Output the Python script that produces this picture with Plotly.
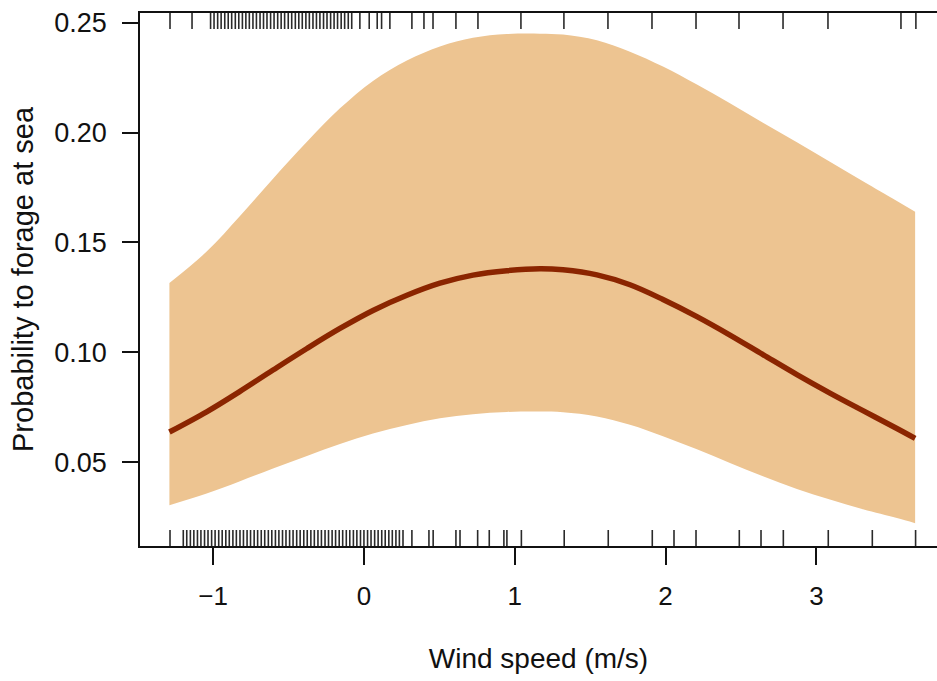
import plotly.graph_objects as go

# ---- data ----
wind = [-1.29, -1.043, -0.822, -0.603, -0.378, -0.159, 0.060, 0.285, 0.504, 0.723,
        0.948, 1.167, 1.320, 1.545, 1.764, 1.983, 2.208, 2.427, 2.646, 2.871,
        3.090, 3.309, 3.534, 3.655]
fit = [0.0637, 0.0729, 0.0822, 0.0919, 0.1017, 0.1108, 0.1190, 0.1259, 0.1314, 0.1351,
       0.1371, 0.1380, 0.1375, 0.1352, 0.1307, 0.1240, 0.1162, 0.1078, 0.0989, 0.0898,
       0.0814, 0.0734, 0.0653, 0.0608]
upper = [0.1315, 0.1458, 0.1620, 0.1790, 0.1958, 0.2110, 0.2235, 0.2328, 0.2392, 0.2431,
         0.2448, 0.2450, 0.2446, 0.2420, 0.2368, 0.2300, 0.2218, 0.2133, 0.2045, 0.1956,
         0.1867, 0.1778, 0.1688, 0.1639]
lower = [0.0304, 0.0357, 0.0413, 0.0471, 0.0528, 0.0582, 0.0630, 0.0669, 0.0699, 0.0718,
         0.0728, 0.0730, 0.0727, 0.0708, 0.0670, 0.0618, 0.0558, 0.0496, 0.0435, 0.0378,
         0.0330, 0.0285, 0.0245, 0.0222]

# observations foraging at sea (top rug)
rug_top = [-1.286, -1.14,
           -1.017, -0.994, -0.970, -0.947, -0.923, -0.900, -0.877, -0.853, -0.830, -0.806,
           -0.783, -0.760, -0.736, -0.713, -0.689, -0.666, -0.643, -0.619, -0.596, -0.572,
           -0.549, -0.526, -0.502, -0.479, -0.455, -0.432, -0.409, -0.385, -0.362, -0.338,
           -0.315, -0.292, -0.268, -0.245, -0.221, -0.198, -0.175, -0.151, -0.128, -0.104,
           -0.081,
           -0.027, 0.035, 0.088, 0.117, 0.172, 0.318, 0.398, 0.458, 0.610, 0.756, 1.041,
           1.326, 1.618, 1.910, 2.202, 2.487, 2.779, 3.077, 3.561, 3.660]
# other observations (bottom rug)
rug_bottom = [-1.286,
              -1.198, -1.175, -1.151, -1.128, -1.104, -1.081, -1.057, -1.034, -1.010, -0.987,
              -0.963, -0.940, -0.916, -0.893, -0.869, -0.846, -0.822, -0.799, -0.775, -0.752,
              -0.728, -0.705, -0.681, -0.658, -0.634, -0.611, -0.587, -0.564, -0.540, -0.517,
              -0.493, -0.470, -0.446, -0.423, -0.399, -0.376, -0.352, -0.329, -0.305, -0.282,
              -0.258, -0.235, -0.211, -0.188, -0.164, -0.141, -0.117, -0.094, -0.070, -0.047,
              -0.023, 0.000, 0.024, 0.047, 0.071, 0.094, 0.118, 0.141, 0.165, 0.188,
              0.212, 0.235, 0.259,
              0.318, 0.431, 0.459, 0.610, 0.637, 0.754, 0.831, 0.928, 0.948, 1.044,
              1.328, 1.620, 1.912, 2.056, 2.202, 2.489, 2.633, 2.781, 3.079, 3.371, 3.658]

x_ticks = [-1, 0, 1, 2, 3]
y_ticks = [0.05, 0.10, 0.15, 0.20, 0.25]
y_ticklabels = ["0.05", "0.10", "0.15", "0.20", "0.25"]

BAND = "#EDC491"
LINE = "#8B2500"
RUG = "#2a2a2a"
FONT = "Liberation Sans, Arial, sans-serif"

fig = go.Figure()
fig.add_trace(go.Scatter(x=wind, y=lower, mode="lines",
                         line=dict(width=0, shape="spline", smoothing=1.0),
                         hoverinfo="skip", showlegend=False))
fig.add_trace(go.Scatter(x=wind, y=upper, mode="lines",
                         line=dict(width=0, shape="spline", smoothing=1.0),
                         fill="tonexty", fillcolor=BAND, hoverinfo="skip", showlegend=False))
fig.add_trace(go.Scatter(x=wind, y=fit, mode="lines",
                         line=dict(color=LINE, width=5.5, shape="spline", smoothing=1.0),
                         showlegend=False))

tick_len_paper = 16 / 533
shapes = []
for v in rug_top:
    shapes.append(dict(type="line", xref="x", yref="paper", x0=v, x1=v,
                       y0=1 - tick_len_paper, y1=1, line=dict(color=RUG, width=1.6)))
for v in rug_bottom:
    shapes.append(dict(type="line", xref="x", yref="paper", x0=v, x1=v,
                       y0=0, y1=tick_len_paper, line=dict(color=RUG, width=1.6)))

fig.update_layout(
    width=937, height=681,
    margin=dict(l=140, r=0, t=13, b=135),
    paper_bgcolor="white", plot_bgcolor="white",
    font=dict(family=FONT, size=26, color="#111"),
    shapes=shapes,
    xaxis=dict(range=[-1.485, 3.800], tickvals=x_ticks, ticks="outside", ticklen=17,
               tickwidth=1.6, tickcolor="#111", showline=True, linecolor="#111", linewidth=1.6,
               mirror=True, showgrid=False, zeroline=False, ticklabelstandoff=9,
               tickfont=dict(size=26),
               title=dict(text="Wind speed (m/s)", standoff=38, font=dict(size=28))),
    yaxis=dict(range=[0.0118, 0.2544], tickvals=y_ticks, ticktext=y_ticklabels,
               ticks="outside", ticklen=16, tickwidth=1.6, tickcolor="#111",
               showline=True, linecolor="#111", linewidth=1.6, mirror=False,
               showgrid=False, zeroline=False, ticklabelstandoff=10,
               tickfont=dict(size=27),
               title=dict(text="Probability to forage at sea", standoff=12, font=dict(size=29))),
)

fig.write_html("out.html")
